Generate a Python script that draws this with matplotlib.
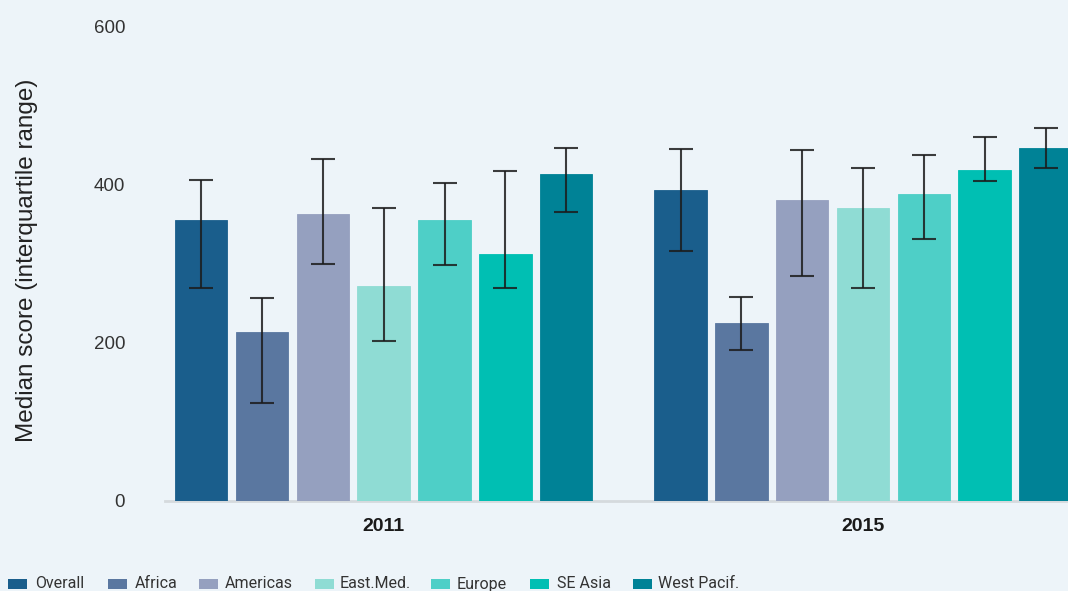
import matplotlib
matplotlib.use("Agg")
import matplotlib.pyplot as plt
import numpy as np
from matplotlib.patches import Rectangle

years = ["2011", "2015"]
regions = ["Overall", "Africa", "Americas", "East.Med.", "Europe", "SE Asia", "West Pacif."]
colors = ["#1a5e8c", "#5a77a0", "#95a0bf", "#8fdcd4", "#4ecfc7", "#00bfb3", "#008296"]

# median, lower quartile, upper quartile per region: [2011, 2015]
median = {
    "Overall":     [355, 393],
    "Africa":      [214, 225],
    "Americas":    [363, 381],
    "East.Med.":   [272, 371],
    "Europe":      [355, 388],
    "SE Asia":     [312, 419],
    "West Pacif.": [414, 446],
}
q1 = {
    "Overall":     [269, 316],
    "Africa":      [124, 191],
    "Americas":    [299, 285],
    "East.Med.":   [202, 269],
    "Europe":      [298, 331],
    "SE Asia":     [269, 405],
    "West Pacif.": [366, 421],
}
q3 = {
    "Overall":     [406, 445],
    "Africa":      [257, 258],
    "Americas":    [432, 444],
    "East.Med.":   [370, 421],
    "Europe":      [402, 437],
    "SE Asia":     [417, 460],
    "West Pacif.": [446, 472],
}
yticks = [0, 200, 400, 600]

bg = "#edf4f9"
W, H = 1068, 591
fig = plt.figure(figsize=(W / 100, H / 100), dpi=100, facecolor=bg)
ax_left, ax_right, ax_bottom, ax_top = 165.3, 1068, 500.7, 26.7
ax = fig.add_axes([ax_left / W, 1 - ax_bottom / H, (ax_right - ax_left) / W, (ax_bottom - ax_top) / H])
ax.set_facecolor(bg)

group_gap = 7.88
group_centers = np.arange(len(years)) * group_gap
bar_w = 0.863
for i, r in enumerate(regions):
    xs = group_centers + (i - 3)
    m = np.array(median[r])
    lo = m - np.array(q1[r])
    hi = np.array(q3[r]) - m
    ax.bar(xs, m, width=bar_w, color=colors[i], edgecolor=colors[i], linewidth=0.6, zorder=2, label=r)
    ax.errorbar(xs, m, yerr=[lo, hi], fmt="none", ecolor="#1c1c1c", elinewidth=1.5,
                capsize=8.5, capthick=1.5, alpha=0.85, zorder=3)

left_lim = -(383.7 - ax_left) / 60.83
ax.set_xlim(left_lim, left_lim + (ax_right - ax_left) / 60.83)
ax.set_ylim(0, 600)
ax.set_yticks(yticks)
ax.set_yticklabels([str(t) for t in yticks], fontsize=13.5, color="#333333", family="Liberation Sans")
ax.tick_params(axis="y", length=0, pad=29)
ax.set_xticks(group_centers)
ax.set_xticklabels(years, fontsize=14, fontweight="bold", color="#1a1a1a", family="Liberation Sans")
ax.tick_params(axis="x", length=0, pad=12.5)
for s in ["left", "right", "top"]:
    ax.spines[s].set_visible(False)
ax.spines["bottom"].set_color("#d5dadd")
ax.spines["bottom"].set_linewidth(2)
ax.spines["bottom"].set_zorder(1)

fig.text(27 / W, 1 - 260 / H, "Median score (interquartile range)", rotation=90,
         ha="center", va="center", fontsize=17.5, color="#222222", family="Liberation Sans")

# legend row (layout positions in pixels)
patch_x = [8, 108, 199, 315, 431, 530, 633]
text_x = [35, 135, 225, 340, 457, 557, 658]
for c, lab, px, tx in zip(colors, regions, patch_x, text_x):
    fig.patches.append(Rectangle((px / W, 1 - 589 / H), 19 / W, 10 / H, transform=fig.transFigure,
                                 facecolor=c, edgecolor="none"))
    fig.text(tx / W, 1 - 584 / H, lab, ha="left", va="center", fontsize=11.5,
             family="Roboto", color="#333333")

fig.savefig("out.png", dpi=100, facecolor=bg)
